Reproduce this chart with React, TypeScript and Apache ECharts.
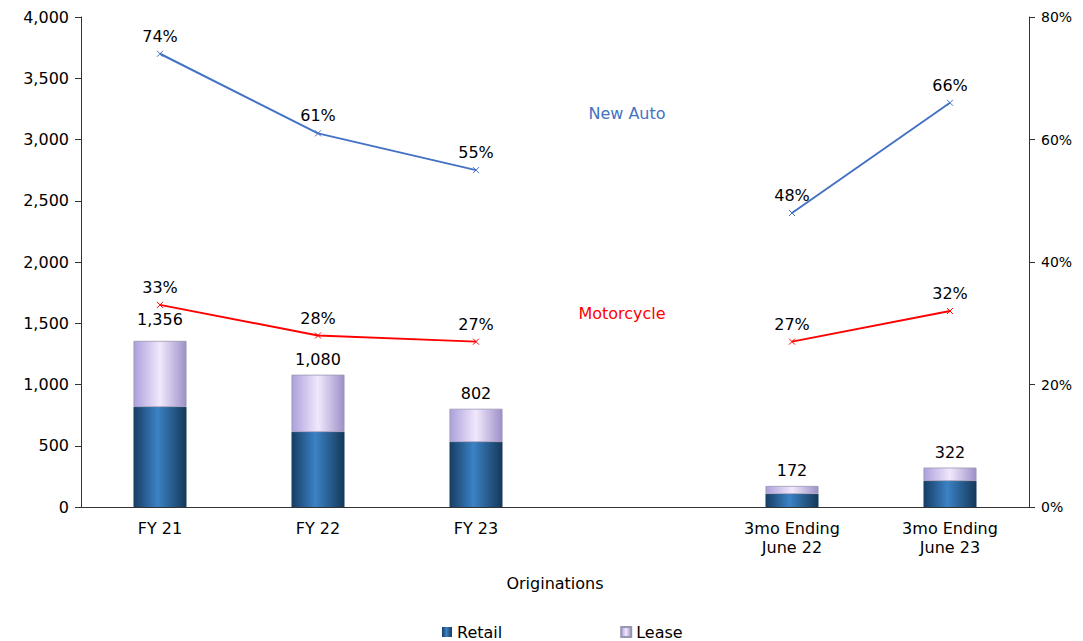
import React, { useEffect, useRef } from "react";
import * as echarts from "echarts";

const categories = ["FY 21", "FY 22", "FY 23", "", "3mo Ending\nJune 22", "3mo Ending\nJune 23"];
const retail = [816, 612, 530, null, 106, 212];
const lease = [540, 468, 272, null, 66, 110];
const totals = [1356, 1080, 802, null, 172, 322];
const newAuto = [74, 61, 55, null, 48, 66];
const motorcycle = [33, 28, 27, null, 27, 32];
const leftTicks = { min: 0, max: 4000, interval: 500 };
const rightTicks = { min: 0, max: 80, interval: 20 };

const FONT = "'DejaVu Sans', 'Liberation Sans', Arial, sans-serif";

export default function App() {
  const ref = useRef<HTMLDivElement>(null);
  useEffect(() => {
    if (!ref.current) return;
    const chart = echarts.init(ref.current, undefined, { renderer: "svg" });
    const retailGrad = new echarts.graphic.LinearGradient(0, 0, 1, 0, [
      { offset: 0, color: "#163c62" },
      { offset: 0.45, color: "#3b82c6" },
      { offset: 1, color: "#153857" },
    ]);
    const leaseGrad = new echarts.graphic.LinearGradient(0, 0, 1, 0, [
      { offset: 0, color: "#aca0dc" },
      { offset: 0.5, color: "#f1e8fc" },
      { offset: 1, color: "#9d90c8" },
    ]);
    const cross = "path://M0,0L10,10M10,0L0,10";
    chart.setOption({
      animation: false,
      textStyle: { fontFamily: FONT },
      grid: { left: 81, right: 54, top: 17, bottom: 134, containLabel: false },
      legend: {
        data: ["Retail", "Lease"],
        left: 437,
        top: 619,
        itemWidth: 10,
        itemHeight: 10,
        itemGap: 118,
        icon: "rect",
        textStyle: { fontSize: 16, color: "#000", fontFamily: FONT },
      },
      xAxis: {
        type: "category",
        data: categories,
        axisTick: { show: false },
        axisLine: { lineStyle: { color: "#333", width: 1 } },
        axisLabel: { color: "#000", fontSize: 16, margin: 12, lineHeight: 19, interval: 0 },
        name: "Originations",
        nameLocation: "middle",
        nameGap: 68,
        nameTextStyle: { color: "#000", fontSize: 16 },
      },
      yAxis: [
        {
          type: "value",
          ...leftTicks,
          axisLine: { show: true, lineStyle: { color: "#333" } },
          axisTick: { show: true, length: 6, lineStyle: { color: "#333" } },
          splitLine: { show: false },
          axisLabel: {
            color: "#000",
            fontSize: 16,
            margin: 12,
            formatter: (v: number) => v.toLocaleString("en-US"),
          },
        },
        {
          type: "value",
          position: "right",
          ...rightTicks,
          axisLine: { show: true, lineStyle: { color: "#333" } },
          axisTick: { show: true, length: 6, lineStyle: { color: "#333" } },
          splitLine: { show: false },
          axisLabel: { color: "#000", fontSize: 14, margin: 12, formatter: "{value}%" },
        },
      ],
      graphic: [
        {
          type: "text",
          x: 627,
          y: 113,
          style: { text: "New Auto", fill: "#4472C4", font: `16px ${FONT}`, textAlign: "center", textVerticalAlign: "middle" },
        },
        {
          type: "text",
          x: 622,
          y: 313,
          style: { text: "Motorcycle", fill: "#ff0000", font: `16px ${FONT}`, textAlign: "center", textVerticalAlign: "middle" },
        },
      ],
      series: [
        {
          name: "Retail",
          type: "bar",
          stack: "o",
          barWidth: 53,
          data: retail,
          itemStyle: { color: retailGrad },
          z: 2,
        },
        {
          name: "Lease",
          type: "bar",
          stack: "o",
          barWidth: 53,
          data: lease.map((v, i) =>
            i === 0 ? { value: v, label: { distance: 13 } } : v
          ),
          itemStyle: { color: leaseGrad, borderColor: "#9a95b0", borderWidth: 0.8 },
          label: {
            show: true,
            position: "top",
            distance: 7,
            color: "#000",
            fontSize: 16,
            formatter: (p: any) => (totals[p.dataIndex] == null ? "" : totals[p.dataIndex]!.toLocaleString("en-US")),
          },
          z: 2,
        },
        {
          name: "New Auto",
          type: "line",
          yAxisIndex: 1,
          data: newAuto,
          connectNulls: false,
          symbol: cross,
          symbolSize: 6,
          lineStyle: { color: "#4472C4", width: 2 },
          itemStyle: { color: "#4472C4", borderColor: "#4472C4", borderWidth: 1 },
          label: { show: true, position: "top", distance: 6, color: "#000", fontSize: 16, formatter: "{c}%" },
          z: 5,
        },
        {
          name: "Motorcycle",
          type: "line",
          yAxisIndex: 1,
          data: motorcycle,
          connectNulls: false,
          symbol: cross,
          symbolSize: 6,
          lineStyle: { color: "#ff0000", width: 2 },
          itemStyle: { color: "#ff0000", borderColor: "#ff0000", borderWidth: 1 },
          label: { show: true, position: "top", distance: 6, color: "#000", fontSize: 16, formatter: "{c}%" },
          z: 5,
        },
      ],
    });
    return () => chart.dispose();
  }, []);
  return (
    <div
      ref={ref}
      style={{ position: "fixed", left: 0, top: 0, width: 1083, height: 641, background: "#fff" }}
    />
  );
}
